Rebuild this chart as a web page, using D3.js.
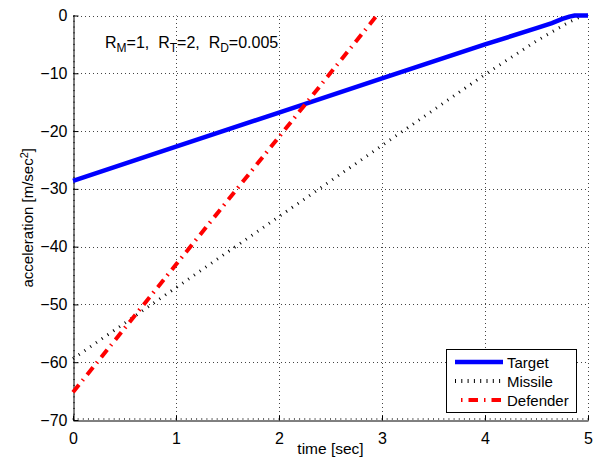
<!DOCTYPE html>
<html>
<head>
<meta charset="utf-8">
<script src="https://cdn.jsdelivr.net/npm/d3@7"></script>
<style>
  body { margin: 0; background: #fff; }
  text { font-family: "Liberation Sans", Arial, sans-serif; }
</style>
</head>
<body>
<script>
// values
var targetT   = [0, 1, 2, 3, 4, 4.5, 4.65, 4.75, 4.82, 4.87, 5];
var targetA   = [-28.6, -22.7, -16.8, -10.9, -5.0, -2.2, -1.3, -0.6, -0.2, 0, 0];
var missileT  = [0, 1, 2, 3, 4, 4.5, 4.8, 4.95];
var missileA  = [-59.4, -47.1, -34.8, -22.5, -10.2, -4.4, -1.3, 0];
var defenderT = [0, 1, 2, 2.95];
var defenderA = [-65.2, -43.1, -21.0, 0];
var xTicks = [0, 1, 2, 3, 4, 5];
var yTicks = [0, -10, -20, -30, -40, -50, -60, -70];
var names = ["Target", "Missile", "Defender"];

var W = 599, H = 464;
var m = {left: 73, right: 11, top: 15.5, bottom: 44};

var svg = d3.select("body").append("svg")
    .attr("width", W)
    .attr("height", H);

var x = d3.scaleLinear().domain([0, 5]).range([m.left, W - m.right]);
var y = d3.scaleLinear().domain([-70, 0]).range([H - m.bottom, m.top]);

// grid (dotted)
var grid = svg.append("g")
    .attr("stroke", "#444")
    .attr("stroke-width", 1)
    .attr("stroke-dasharray", "1,3");
grid.selectAll(".gx").data(xTicks.slice(1)).enter().append("line")
    .attr("x1", d => Math.round(x(d)) + 0.5).attr("x2", d => Math.round(x(d)) + 0.5)
    .attr("y1", y(-70)).attr("y2", y(0));
grid.selectAll(".gy").data(yTicks.slice(0, -1)).enter().append("line")
    .attr("y1", d => Math.round(y(d)) + 0.5).attr("y2", d => Math.round(y(d)) + 0.5)
    .attr("x1", x(0)).attr("x2", x(5));

// axes, ticks inward
var xAxis = svg.append("g")
    .attr("transform", `translate(0,${Math.round(y(-70)) + 0.5})`)
    .call(d3.axisBottom(x).tickValues(xTicks).tickFormat(d3.format("d"))
        .tickSizeInner(-5).tickSizeOuter(0).tickPadding(12));
var yAxis = svg.append("g")
    .attr("transform", `translate(${Math.round(x(0)) + 0.5},0)`)
    .call(d3.axisLeft(y).tickValues(yTicks).tickFormat(d3.format("d"))
        .tickSizeInner(-5).tickSizeOuter(0).tickPadding(6));
[xAxis, yAxis].forEach(function(g) {
  g.select(".domain").attr("stroke", "#000");
  g.selectAll(".tick line").attr("stroke", "#000");
  g.selectAll(".tick text").attr("font-size", 16).attr("fill", "#000")
   .style("font-family", "Liberation Sans, Arial, sans-serif");
});

// minor ticks
svg.append("g").selectAll("line").data(d3.range(0, 5.001, 0.05)).enter().append("line")
    .attr("x1", d => x(d)).attr("x2", d => x(d))
    .attr("y1", y(-70)).attr("y2", y(-70) - 2)
    .attr("stroke", "#000").attr("stroke-width", 0.6);
svg.append("g").selectAll("line").data(d3.range(-70, 0.001, 1)).enter().append("line")
    .attr("y1", d => y(d)).attr("y2", d => y(d))
    .attr("x1", x(0)).attr("x2", x(0) + 2)
    .attr("stroke", "#000").attr("stroke-width", 0.6);

// series
var line = d3.line().x(d => x(d[0])).y(d => y(d[1]));
var styles = [
  {color: "#0000ff", width: 4.5, dash: null},
  {color: "#000", width: 3, dash: "1,6"},
  {color: "#ff0000", width: 4, dash: "9.5,5.5,1.5,6"}
];
var series = [
  d3.zip(targetT, targetA),
  d3.zip(missileT, missileA),
  d3.zip(defenderT, defenderA)
];
var plot = svg.append("g");
[1, 0, 2].forEach(function(i) {
  plot.append("path")
      .datum(series[i])
      .attr("d", line)
      .attr("fill", "none")
      .attr("stroke", styles[i].color)
      .attr("stroke-width", styles[i].width)
      .attr("stroke-dasharray", styles[i].dash);
});

// annotation
var ann = svg.append("text")
    .attr("x", 105).attr("y", 48)
    .attr("font-size", 16)
    .attr("xml:space", "preserve");
[["R", "M", "=1,  "], ["R", "T", "=2,  "], ["R", "D", "=0.005"]].forEach(function(p) {
  ann.append("tspan").text(p[0]);
  ann.append("tspan").attr("dy", 4).attr("font-size", 12).text(p[1]);
  ann.append("tspan").attr("dy", -4).text(p[2]);
});

// axis labels
svg.append("text")
    .attr("x", (x(0) + x(5)) / 2).attr("y", 454)
    .attr("text-anchor", "middle")
    .attr("font-size", 15.5)
    .text("time [sec]");
var yl = svg.append("text")
    .attr("transform", `translate(33,${(y(0) + y(-70)) / 2}) rotate(-90)`)
    .attr("text-anchor", "middle")
    .attr("font-size", 15);
yl.append("tspan").text("acceleration [m/sec");
yl.append("tspan").attr("dy", -5).attr("font-size", 11).text("2");
yl.append("tspan").attr("dy", 5).text("]");

// legend
var lg = svg.append("g").attr("transform", "translate(446,349)");
lg.append("rect")
    .attr("x", 0.5).attr("y", 0.5).attr("width", 130).attr("height", 63)
    .attr("fill", "#fff").attr("stroke", "#000");
names.forEach(function(n, i) {
  var yy = 13 + i * 19;
  lg.append("line")
      .attr("x1", 9).attr("x2", 57).attr("y1", yy).attr("y2", yy)
      .attr("stroke", styles[i].color)
      .attr("stroke-width", i == 1 ? 4 : styles[i].width)
      .attr("stroke-dasharray", i == 2 ? "0,6,1.5,6,9.5,6,1.5,6,9.5,6" : (i == 1 ? "1,5.3" : null));
  lg.append("text")
      .attr("x", 61).attr("y", yy + 5.5)
      .attr("font-size", 15)
      .text(n);
});
</script>
</body>
</html>
